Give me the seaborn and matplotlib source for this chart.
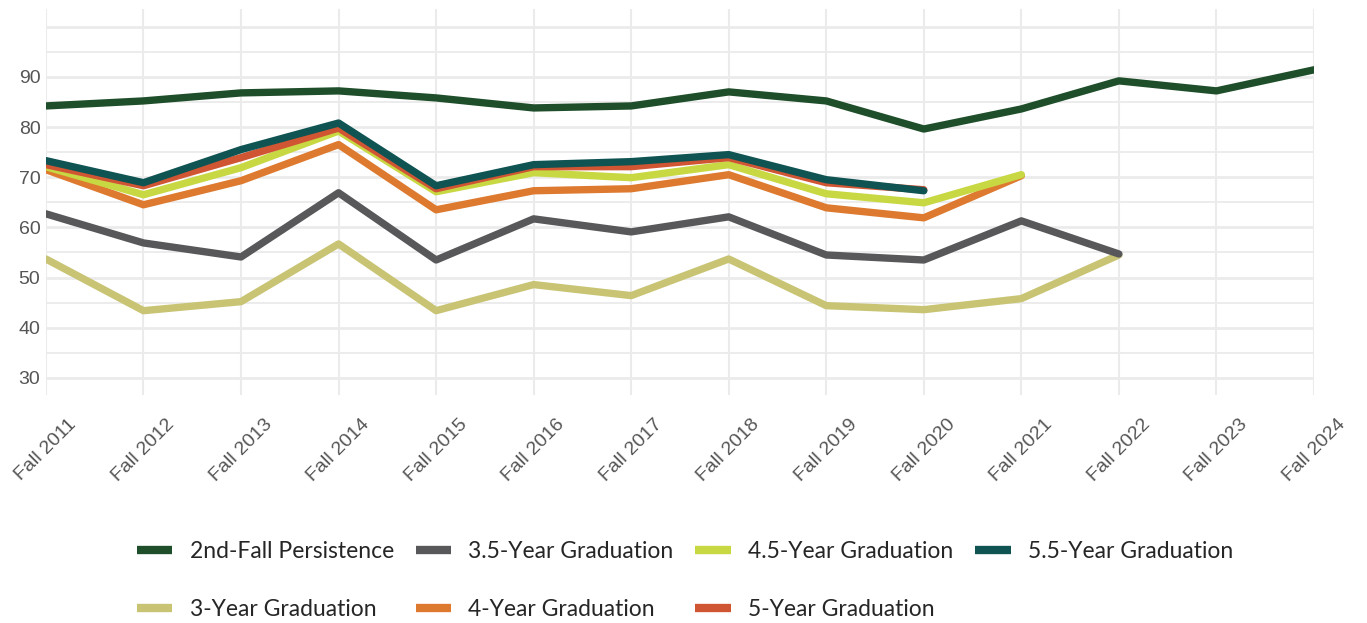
"""Retention and graduation rates by entering cohort."""

import matplotlib.pyplot as plt
import numpy as np
import pandas as pd
import seaborn as sns

# cohort labels
cohorts = [
    "Fall 2011", "Fall 2012", "Fall 2013", "Fall 2014", "Fall 2015",
    "Fall 2016", "Fall 2017", "Fall 2018", "Fall 2019", "Fall 2020",
    "Fall 2021", "Fall 2022", "Fall 2023", "Fall 2024",
]

nan = np.nan
persistence = [84.2, 85.2, 86.8, 87.2, 85.8, 83.8, 84.2, 87.0, 85.2, 79.6,
               83.6, 89.2, 87.2, 91.4]
grad_3 = [53.7, 43.4, 45.2, 56.7, 43.4, 48.6, 46.4, 53.7, 44.4, 43.6,
          45.8, 54.5, nan, nan]
grad_35 = [62.7, 56.9, 54.1, 66.9, 53.5, 61.7, 59.1, 62.1, 54.5, 53.5,
           61.3, 54.7, nan, nan]
grad_4 = [71.5, 64.5, 69.3, 76.5, 63.5, 67.3, 67.7, 70.5, 63.9, 61.9,
          70.3, nan, nan, nan]
grad_45 = [72.1, 66.5, 71.9, 79.2, 67.1, 70.9, 69.9, 72.5, 66.7, 64.9,
           70.5, nan, nan, nan]
grad_5 = [72.5, 68.3, 73.9, 79.8, 67.7, 72.1, 72.1, 73.9, 68.9, 67.5,
          nan, nan, nan, nan]
grad_55 = [73.3, 68.9, 75.5, 80.8, 68.3, 72.5, 73.1, 74.5, 69.5, 67.3,
           nan, nan, nan, nan]

wide = pd.DataFrame({
    "Cohort": cohorts,
    "2nd-Fall Persistence": persistence,
    "3-Year Graduation": grad_3,
    "3.5-Year Graduation": grad_35,
    "4-Year Graduation": grad_4,
    "4.5-Year Graduation": grad_45,
    "5-Year Graduation": grad_5,
    "5.5-Year Graduation": grad_55,
})
df = wide.melt(id_vars="Cohort", var_name="Measure", value_name="Rate").dropna()

palette = {
    "2nd-Fall Persistence": "#1f4e2a",
    "3-Year Graduation": "#c8c474",
    "3.5-Year Graduation": "#58585a",
    "4-Year Graduation": "#dd7a2f",
    "4.5-Year Graduation": "#c8d843",
    "5-Year Graduation": "#d05533",
    "5.5-Year Graduation": "#0f5353",
}

sns.set_theme(style="white")
plt.rcParams["font.family"] = ["Liberation Sans", "DejaVu Sans"]

fig = plt.figure(figsize=(13.67, 6.23), dpi=100)
ax = fig.add_axes([0.0336, 0.366, 0.9276, 0.6194])

sns.lineplot(
    data=df, x="Cohort", y="Rate", hue="Measure",
    hue_order=list(palette), palette=palette,
    linewidth=5.3, ax=ax, legend=False, sort=False,
)

ax.set_xlim(0, len(cohorts) - 1)
ax.set_ylim(26.6, 103.5)
ax.set_yticks(range(30, 101, 10))
ax.set_yticklabels([str(v) for v in range(30, 100, 10)] + [""])
ax.set_yticks(range(35, 100, 10), minor=True)
ax.set_xticks(range(len(cohorts)))
ax.set_xticklabels(cohorts, rotation=45, ha="center")

ax.grid(which="major", axis="y", color="#ebebeb", linewidth=2, zorder=0)
ax.grid(which="minor", axis="y", color="#ebebeb", linewidth=1.3, zorder=0)
ax.grid(which="major", axis="x", color="#ebebeb", linewidth=1.5, zorder=0)
ax.set_axisbelow(True)
ax.tick_params(which="both", length=0, labelsize=14, colors="#555555")
ax.tick_params(axis="x", pad=15)
ax.tick_params(axis="y", pad=4)
for s in ax.spines.values():
    s.set_visible(False)
ax.set_xlabel("")
ax.set_ylabel("")

handles = [plt.Line2D([], [], color=c, linewidth=6, solid_capstyle="butt")
           for c in palette.values()]
fig.legend(
    handles, list(palette), loc="upper left", bbox_to_anchor=(0.1002, 0.132),
    ncol=4, frameon=False, handlelength=1.55, handletextpad=0.75,
    columnspacing=0.95, labelspacing=1.62, borderaxespad=0, borderpad=0,
    prop={"family": ["Lato", "DejaVu Sans"], "size": 16.5},
)

fig.savefig("out.png", dpi=100)
